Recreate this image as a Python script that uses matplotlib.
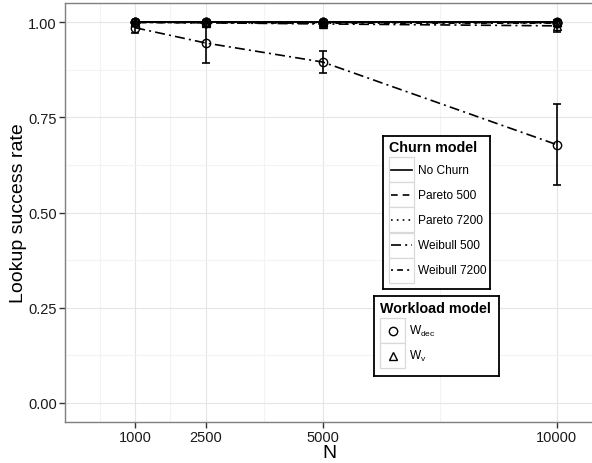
"""
Lookup success rate vs network size for churn / workload models
"""

### Import modules
import numpy as np
import matplotlib
matplotlib.use('Agg')
import matplotlib.pyplot as plt
from matplotlib.patches import Rectangle
from matplotlib.lines import Line2D

### Data
N = [1000, 2500, 5000, 10000]
xticklabels = ['1000', '2500', '5000', '10000']
yticks = [0.00, 0.25, 0.50, 0.75, 1.00]

churn_models = ['No Churn', 'Pareto 500', 'Pareto 7200', 'Weibull 500', 'Weibull 7200']
workload_models = ['W$_{dec}$', 'W$_{v}$']

nochurn_dec = [1.000, 1.000, 1.000, 1.000]
nochurn_v = [1.000, 1.000, 1.000, 1.000]
pareto500_dec = [1.000, 0.999, 0.999, 0.998]
pareto500_v = [1.000, 1.000, 1.000, 1.000]
pareto7200_dec = [1.000, 1.000, 1.000, 0.999]
pareto7200_v = [1.000, 1.000, 1.000, 1.000]
weibull500_dec = [0.985, 0.945, 0.895, 0.678]
weibull500_dec_err = [0.014, 0.053, 0.030, 0.106]
weibull500_v = [0.999, 0.998, 0.995, 0.990]
weibull500_v_err = [0.002, 0.003, 0.004, 0.015]
weibull7200_dec = [0.999, 0.998, 0.997, 0.997]
weibull7200_v = [1.000, 1.000, 1.000, 1.000]

### Styles
plt.rcParams['font.family'] = ['Liberation Sans', 'DejaVu Sans']
plt.rcParams['mathtext.default'] = 'regular'
styles = {'No Churn': '-',
          'Pareto 500': (0, (4, 3)),
          'Pareto 7200': (0, (1, 2.5)),
          'Weibull 500': (0, (6, 2.5, 1.2, 2.5)),
          'Weibull 7200': (0, (1.2, 2.5, 3.5, 2.5))}
markers = {'dec': 'o', 'v': '^'}

series = [('No Churn', 'dec', nochurn_dec, None),
          ('Pareto 500', 'dec', pareto500_dec, None),
          ('Pareto 7200', 'dec', pareto7200_dec, None),
          ('Weibull 500', 'dec', weibull500_dec, weibull500_dec_err),
          ('Weibull 7200', 'dec', weibull7200_dec, None),
          ('No Churn', 'v', nochurn_v, None),
          ('Pareto 500', 'v', pareto500_v, None),
          ('Pareto 7200', 'v', pareto7200_v, None),
          ('Weibull 500', 'v', weibull500_v, weibull500_v_err),
          ('Weibull 7200', 'v', weibull7200_v, None)]

### Make plot
fig = plt.figure(figsize=(5.92, 4.64), dpi=100)
ax = fig.add_axes([65/592., 41/464., 528/592., 419/464.])

for name, wl, vals, err in series:
    ax.plot(N, vals, color='k', linestyle=styles[name], linewidth=1.2, zorder=4)
    if err is not None:
        ax.errorbar(N, vals, yerr=err, fmt='none', ecolor='k', elinewidth=1.2,
                    capsize=3, capthick=1.2, zorder=5)

for name, wl, vals, err in series:
    ax.plot(N, vals, linestyle='none', marker=markers[wl], markersize=6,
            markerfacecolor='none', markeredgecolor='k', markeredgewidth=1.0, zorder=6)

### Axes
ax.set_xlim(-500, 10770)
ax.set_ylim(-0.05, 1.05)
ax.set_xticks(N)
ax.set_xticklabels(xticklabels)
ax.set_yticks(yticks)
ax.set_yticklabels(['%.2f' % v for v in yticks])
ax.set_xticks([250, 1750, 3750, 7500], minor=True)
ax.set_yticks([0.125, 0.375, 0.625, 0.875], minor=True)
ax.grid(which='major', color='#e5e5e5', linewidth=0.8, zorder=0)
ax.grid(which='minor', color='#f3f3f3', linewidth=0.8, zorder=0)
ax.set_axisbelow(True)
ax.tick_params(which='major', length=4, width=1, color='#333333',
               labelsize=10.5, labelcolor='#1a1a1a', pad=2)
ax.tick_params(which='minor', length=0)
for sp in ax.spines.values():
    sp.set_color('#7f7f7f')
    sp.set_linewidth(1)
ax.set_xlabel('N', fontsize=14, labelpad=0)
ax.set_ylabel('Lookup success rate', fontsize=14, labelpad=1)

### Legends (drawn in small pixel-space axes)
def legend_box(rect_px, wpx, hpx):
    l, t = rect_px
    lax = fig.add_axes([l/592., (464.-t-hpx)/464., wpx/592., hpx/464.])
    lax.set_xlim(0, wpx)
    lax.set_ylim(hpx, 0)
    lax.set_xticks([])
    lax.set_yticks([])
    for sp in lax.spines.values():
        sp.set_color('k')
        sp.set_linewidth(1.3)
    lax.set_zorder(10)
    return lax

### Churn model legend
lax = legend_box((383, 137), 107, 153)
lax.text(6, 11, 'Churn model', fontsize=10.3, fontweight='bold', va='center', ha='left')
for i, name in enumerate(churn_models):
    y0 = 21 + 25.2*i
    lax.add_patch(Rectangle((6, y0), 25, 25, facecolor='white', edgecolor='#d9d9d9', linewidth=0.9))
    lax.add_line(Line2D([8, 29], [y0+12.6, y0+12.6], color='k', linestyle=styles[name], linewidth=1.2))
    lax.text(35, y0+12.6, name, fontsize=8.6, va='center', ha='left')

### Workload model legend
wax = legend_box((374, 297), 125, 80)
wax.text(6, 12, 'Workload model', fontsize=10.3, fontweight='bold', va='center', ha='left')
for i, (lab, wl) in enumerate(zip(workload_models, ['dec', 'v'])):
    y0 = 22 + 25*i
    wax.add_patch(Rectangle((6, y0), 25, 25, facecolor='white', edgecolor='#d9d9d9', linewidth=0.9))
    wax.plot([18.5], [y0+12.5], marker=markers[wl], markersize=6, markerfacecolor='none',
             markeredgecolor='k', markeredgewidth=1.0)
    wax.text(35, y0+12.5, lab, fontsize=8.6, va='center', ha='left')

plt.savefig('out.png', dpi=100)
